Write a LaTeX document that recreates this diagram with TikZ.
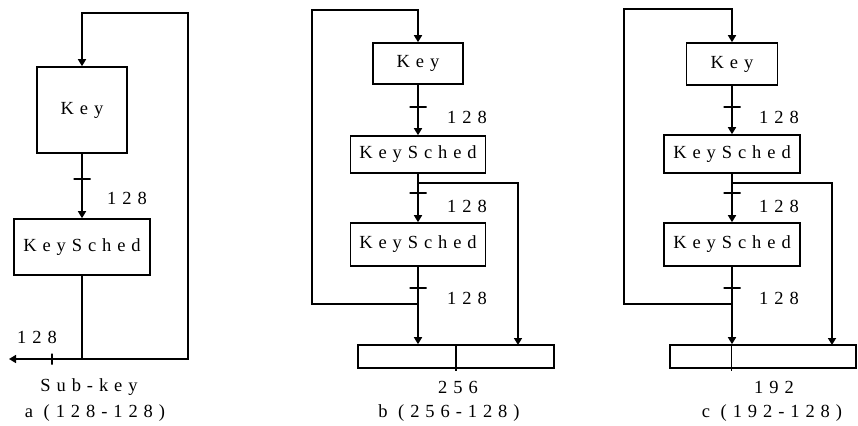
\documentclass[tikz,border=0pt]{standalone}
\usepackage{fontspec}
\usepackage{tikz}
\usetikzlibrary{arrows.meta, calc}
\newfontfamily\spacedfont[LetterSpace=32]{Liberation Serif}
\newcommand{\keyfont}{\fontsize{18.5}{20}\spacedfont}

\begin{document}
\begin{tikzpicture}[
  x=1pt, y=-1pt,
  every node/.style={font=\keyfont},
  box/.style={rectangle, draw, line width=1.6pt, inner sep=0pt, align=center},
  arrow/.style={-{Triangle[width=8pt, length=7pt]}, line width=1.6pt},
  line/.style={line width=1.6pt},
  hbar/.style={rectangle, draw, line width=1.6pt, inner sep=0pt,
               minimum width=17pt, minimum height=0pt},
  vbar/.style={rectangle, draw, line width=1.6pt, inner sep=0pt,
               minimum width=0pt, minimum height=11pt},
  width/.style={inner sep=0pt},
]
\useasboundingbox (0,0) rectangle (858,425);

% Nodes (a)
\node[box, minimum width=90pt, minimum height=86pt] (key_a) at (82,110) {Key};
\node[box, minimum width=136pt, minimum height=56pt] (ks_a) at (82,247) {KeySched};
\coordinate (jn_a) at (82,359);
\coordinate (lp_a) at (188,13);
\coordinate (sk_a) at (9,359);

% Nodes (b)
\node[box, minimum width=90pt, minimum height=41pt] (key_b) at (418,63.5) {Key};
\node[box, minimum width=135pt, minimum height=37pt] (ks1_b) at (418,154.5) {KeySched};
\node[box, minimum width=135pt, minimum height=43pt] (ks2_b) at (418,244.5) {KeySched};
\node[box, minimum width=196pt, minimum height=23pt] (out_b) at (456,356.5) {};
\coordinate (jn_b) at (418,304);
\coordinate (lp_b) at (312,10);
\coordinate (br_b) at (418,183);
\coordinate (rb_b) at (518,345);

% Nodes (c)
\node[box, minimum width=91pt, minimum height=42pt] (key_c) at (732,64) {Key};
\node[box, minimum width=136pt, minimum height=38pt] (ks1_c) at (732,154) {KeySched};
\node[box, minimum width=136pt, minimum height=43pt] (ks2_c) at (732,244.5) {KeySched};
\node[box, minimum width=186pt, minimum height=23pt] (out_c) at (763,356.5) {};
\coordinate (jn_c) at (732,304);
\coordinate (lp_c) at (624,9);
\coordinate (br_c) at (732,183);
\coordinate (rb_c) at (832,345);

% Labels
\node[width] (w_a) at (127,198) {128};
\node[width] (sw_a) at (37,337) {128};
\node[width] (sub_a) at (89,387) {Sub-key};
\node[width] (cap_a) at (95,413) {a (128-128)};

\node[width] (w1_b) at (467,117) {128};
\node[width] (w2_b) at (467,206) {128};
\node[width] (w3_b) at (467,298) {128};
\node[width] (tot_b) at (458,387) {256};
\node[width] (cap_b) at (449,413) {b (256-128)};

\node[width] (w1_c) at (779,117) {128};
\node[width] (w2_c) at (779,206) {128};
\node[width] (w3_c) at (779,298) {128};
\node[width] (tot_c) at (774,387) {192};
\node[width] (cap_c) at (772,413) {c (192-128)};

% Arrows (a)
\draw[arrow] (key_a) -- node[pos=0.39, hbar] {} (ks_a);
\draw[line] (ks_a) -- (jn_a);
\draw[arrow] (jn_a) -| (lp_a) -| (key_a.north);
\draw[arrow] (jn_a) -- node[pos=0.41, vbar] {} (sk_a);

% Arrows (b)
\draw[arrow] (key_b) -- node[pos=0.44, hbar] {} (ks1_b);
\draw[arrow] (ks1_b) -- node[pos=0.4, hbar] {} (ks2_b);
\draw[arrow] (ks2_b) -- node[pos=0.27, hbar] {} (ks2_b |- out_b.north);
\draw[arrow] (jn_b) -| (lp_b) -| (key_b.north);
\draw[arrow] (br_b) -| (rb_b);
\draw[line] (out_b.north) -- ([yshift=-2pt]out_b.south);

% Arrows (c)
\draw[arrow] (key_c) -- node[pos=0.44, hbar] {} (ks1_c);
\draw[arrow] (ks1_c) -- node[pos=0.4, hbar] {} (ks2_c);
\draw[arrow] (ks2_c) -- node[pos=0.27, hbar] {} (ks2_c |- out_c.north);
\draw[arrow] (jn_c) -| (lp_c) -| (key_c.north);
\draw[arrow] (br_c) -| (rb_c);
\draw[line] ($(out_c.north west)!0.333!(out_c.north east)$)
  -- ($(out_c.south west)!0.333!(out_c.south east)+(0,2)$);

\end{tikzpicture}
\end{document}
